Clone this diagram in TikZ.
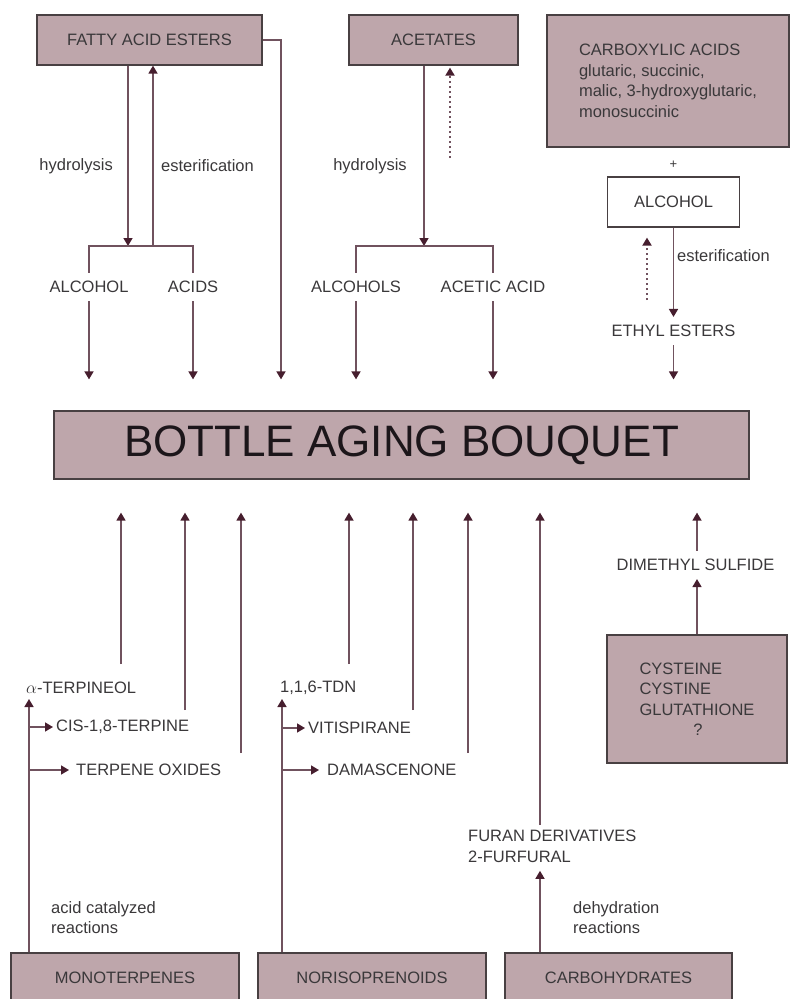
\documentclass[tikz,border=0pt]{standalone}
\usepackage{fontspec}
\setmainfont{Liberation Sans}
\usepackage{tikz}
\usetikzlibrary{positioning, arrows.meta}
\definecolor{MauveBox}{RGB}{190, 166, 171}
\definecolor{WineLine}{RGB}{112, 82, 94}
\definecolor{WineTip}{RGB}{70, 30, 46}
\definecolor{EdgeGrey}{RGB}{72, 64, 66}
\definecolor{InkGrey}{RGB}{58, 56, 58}
\definecolor{InkBlack}{RGB}{28, 22, 26}

\begin{document}
\begin{tikzpicture}[x=1pt, y=-1pt,
    mbox/.style={draw=EdgeGrey, line width=1.2pt, fill=MauveBox, text=InkGrey, inner sep=0pt, font=\fontsize{16.5}{20.5}\selectfont},
    tag/.style={text=InkGrey, inner xsep=3pt, inner ysep=8pt, font=\fontsize{16.5}{20.5}\selectfont},
    wire/.style={WineLine, line width=1.5pt},
    flecha/.style={wire, -{Triangle[length=8pt, width=9pt, color=WineTip]}},
    dots/.style={flecha, dash pattern=on 2.5pt off 2.5pt, line width=1.8pt},
    tobab/.style={flecha, shorten >=31pt},
    rise/.style={flecha, shorten >=33pt}]
    \useasboundingbox (0,0) rectangle (791,999);
    \clip (0,0) rectangle (791,999);

    % Cajas superiores
    \node[mbox, minimum width=225pt, minimum height=50pt] (fae) at (149.5,40) {FATTY ACID ESTERS};
    \node[mbox, minimum width=169pt, minimum height=50pt] (acet) at (433.5,40) {ACETATES};
    \node[mbox, minimum width=242pt, minimum height=132pt, align=left] (carb) at (668,81) {CARBOXYLIC ACIDS\\glutaric, succinic,\\malic, 3-hydroxyglutaric,\\monosuccinic};
    \node[tag, font=\fontsize{13}{15}\selectfont] (plus) at (673.5,165) {+};
    \node[mbox, fill=white, minimum width=132pt, minimum height=50pt] (alc) at (673.5,202) {ALCOHOL};

    % Etiquetas superiores
    \node[tag, anchor=east] (hyd1) at (116,166) {hydrolysis};
    \node[tag, anchor=west] (est1) at (158,166) {esterification};
    \node[tag] (hyd2) at (370,166) {hydrolysis};
    \node[tag, anchor=west] (est2) at (674,256) {esterification};
    \node[tag] (alcohol) at (89,287) {ALCOHOL};
    \node[tag] (acids) at (193,287) {ACIDS};
    \node[tag] (alcohols) at (356,287) {ALCOHOLS};
    \node[tag] (acetic) at (493,287) {ACETIC ACID};
    \node[tag] (ethyl) at (673.5,331) {ETHYL ESTERS};

    % Caja central
    \node[mbox, minimum width=695pt, minimum height=68pt, text=InkBlack, font=\fontsize{44}{50}\selectfont] (bab) at (401.5,445) {BOTTLE AGING BOUQUET};

    % Cajas inferiores
    \node[mbox, minimum width=228pt, minimum height=50pt] (mono) at (125,978) {MONOTERPENES};
    \node[mbox, minimum width=228pt, minimum height=50pt] (noriso) at (372,978) {NORISOPRENOIDS};
    \node[mbox, minimum width=227pt, minimum height=50pt] (carbo) at (618.5,978) {CARBOHYDRATES};
    \node[mbox, minimum width=180pt, minimum height=128pt, align=left] (cyst) at (697,699) {CYSTEINE\\CYSTINE\\GLUTATHIONE\\\hphantom{GLUTA}?};

    % Etiquetas inferiores
    \node[tag, anchor=west] (terpineol) at (23,688) {$\alpha$-TERPINEOL};
    \node[tag, anchor=west] (cis) at (53,727) {CIS-1,8-TERPINE};
    \node[tag, anchor=west] (oxides) at (73,770) {TERPENE OXIDES};
    \node[tag, anchor=west] (tdn) at (277,688) {1,1,6-TDN};
    \node[tag, anchor=west] (vitis) at (305,728) {VITISPIRANE};
    \node[tag, anchor=west] (damas) at (324,770) {DAMASCENONE};
    \node[tag, anchor=west, align=left] (furan) at (465,846.5) {FURAN DERIVATIVES\\2-FURFURAL};
    \node[tag] (dms) at (695.5,565) {DIMETHYL SULFIDE};
    \node[tag, anchor=west, align=left] (acidcat) at (48,917.5) {acid catalyzed\\reactions};
    \node[tag, anchor=west, align=left] (dehyd) at (570,917.5) {dehydration\\reactions};

    % Puntos de paso
    \coordinate (fork1) at (128,246);
    \coordinate (back1) at (153,246);
    \coordinate (fork2) at (424,246);
    \coordinate (back2) at (450,158);
    \coordinate (back3) at (647,300);
    \coordinate (side1) at (281,40);
    \coordinate (stem1) at (29,699);
    \coordinate (stem2) at (282,699);
    \coordinate (up1) at (121,664);
    \coordinate (up2) at (185,710);
    \coordinate (up3) at (241,753);
    \coordinate (up4) at (349,664);
    \coordinate (up5) at (413,710);
    \coordinate (up6) at (468,753);
    \coordinate (up7) at (540,825);

    % Hidrolisis y esterificacion
    \draw[flecha] (fae.south -| fork1) -- (fork1);
    \draw[flecha] (back1) -- (back1 |- fae.south);
    \draw[wire] (alcohol.north) |- (fork1) -| (acids.north);
    \draw[flecha] (acet.south -| fork2) -- (fork2);
    \draw[dots, shorten >=2pt] (back2) -- (back2 |- acet.south);
    \draw[wire] (alcohols.north) |- (fork2) -| (acetic.north);
    \draw[flecha] (alc.south) -- (ethyl.north);
    \draw[dots, shorten >=10pt] (back3) -- (back3 |- alc.south);

    % Flechas hacia el bouquet
    \draw[tobab] (alcohol.south) -- (alcohol.south |- bab.north);
    \draw[tobab] (acids.south) -- (acids.south |- bab.north);
    \draw[tobab] (fae.east) -- (side1) -- (side1 |- bab.north);
    \draw[tobab] (alcohols.south) -- (alcohols.south |- bab.north);
    \draw[tobab] (acetic.south) -- (acetic.south |- bab.north);
    \draw[tobab] (ethyl.south) -- (ethyl.south |- bab.north);

    % Flechas desde abajo
    \draw[rise] (up1) -- (up1 |- bab.south);
    \draw[rise] (up2) -- (up2 |- bab.south);
    \draw[rise] (up3) -- (up3 |- bab.south);
    \draw[rise] (up4) -- (up4 |- bab.south);
    \draw[rise] (up5) -- (up5 |- bab.south);
    \draw[rise] (up6) -- (up6 |- bab.south);
    \draw[rise] (up7) -- (up7 |- bab.south);
    \draw[rise] (cyst.north |- dms.north) -- (cyst.north |- bab.south);
    \draw[flecha] (cyst.north) -- (cyst.north |- dms.south);

    % Reacciones
    \draw[flecha] (stem1 |- mono.north) -- (stem1);
    \draw[flecha] (stem1 |- cis.west) -- (cis.west);
    \draw[flecha, shorten >=4pt] (stem1 |- oxides.west) -- (oxides.west);
    \draw[flecha] (stem2 |- noriso.north) -- (stem2);
    \draw[flecha] (stem2 |- vitis.west) -- (vitis.west);
    \draw[flecha, shorten >=5pt] (stem2 |- damas.west) -- (damas.west);
    \draw[flecha] (up7 |- carbo.north) -- (up7 |- furan.south);
\end{tikzpicture}
\end{document}
